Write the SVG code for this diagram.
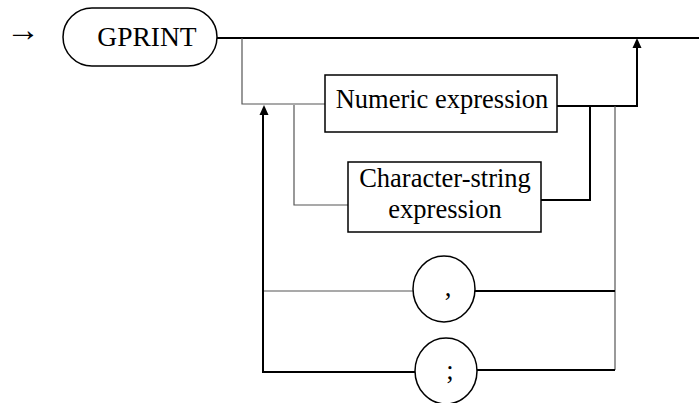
<svg xmlns="http://www.w3.org/2000/svg" width="699" height="403" viewBox="0 0 699 403">
<style>
.t{font-family:"Liberation Serif","Times New Roman",serif;font-size:26.5px;fill:#000}
.g{font-size:27.5px}
.arr{font-family:"Liberation Serif","Times New Roman",serif;font-size:34px;fill:#000}
.box{fill:#fff;stroke:#000;stroke-width:1.5}
.thin{fill:none;stroke:#555;stroke-width:1.2}
.thick{fill:none;stroke:#000;stroke-width:2}
.ah{fill:#000}
</style>
<rect width="699" height="403" fill="#fff"/>
<g id="entry"><text class="arr" x="6" y="41">→</text></g>
<g id="connectors">
<path class="thick" d="M217 38H699"/>
<path class="thin" d="M242 38V104H325"/>
<path class="thick" d="M557 106H637V46"/>
<polygon class="ah" points="637,38 632.5,48 641.5,48"/>
<path class="thin" d="M294 105V205H348"/>
<path class="thick" d="M541 200H590V106"/>
<path class="thin" d="M615 106V370"/>
<path class="thin" d="M264 291H413"/>
<path class="thick" d="M475 291H615"/>
<path class="thick" d="M415 372H263V113"/>
<polygon class="ah" points="264,105 259.5,115 268.5,115"/>
<path class="thick" d="M477 370H615"/>
</g>
<g id="gprint">
<rect class="box" x="63" y="8" width="154" height="58" rx="29" ry="29"/>
<text class="t g" x="147" y="46" text-anchor="middle">GPRINT</text>
</g>
<g id="numeric">
<rect class="box" x="325" y="75" width="232" height="57"/>
<text class="t" x="442" y="108" text-anchor="middle">Numeric expression</text>
</g>
<g id="charstring">
<rect class="box" x="348" y="162" width="193" height="70"/>
<text class="t" x="445" y="187" text-anchor="middle">Character-string</text>
<text class="t" x="445" y="218" text-anchor="middle">expression</text>
</g>
<g id="comma">
<ellipse class="box" cx="444" cy="289" rx="31" ry="33"/>
<text class="t" x="448" y="296" text-anchor="middle">,</text>
</g>
<g id="semicolon">
<ellipse class="box" cx="446" cy="371" rx="31" ry="33"/>
<text class="t" x="450" y="379" text-anchor="middle">;</text>
</g>
</svg>
